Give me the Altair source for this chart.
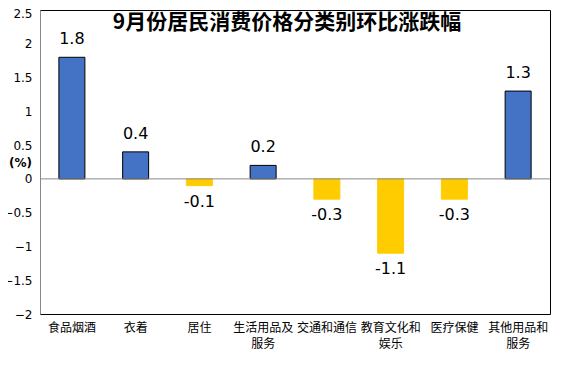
import altair as alt
import pandas as pd

categories = ["食品烟酒", "衣着", "居住", "生活用品及\n服务", "交通和通信", "教育文化和\n娱乐", "医疗保健", "其他用品和\n服务"]
values = [1.8, 0.4, -0.1, 0.2, -0.3, -1.1, -0.3, 1.3]
y_ticks = [-2, -1.5, -1, -0.5, 0, 0.5, 1, 1.5, 2, 2.5]
title_text = "9月份居民消费价格分类别环比涨跌幅"

df = pd.DataFrame({"cat": categories, "val": values})
df["label"] = df["val"].map(lambda v: f"{v:.1f}")
df["sign"] = df["val"].map(lambda v: "pos" if v >= 0 else "neg")

yscale = alt.Scale(domain=[-2, 2.5], nice=False, zero=False)
yaxis = alt.Axis(values=y_ticks, labelOverlap=False, format="~g",
                 grid=False, ticks=False, labelPadding=8, domainColor="#888",
                 labelOffset={"condition": {"test": "datum.value >= 2.5", "value": 3}, "value": 0},
                 labelFont="DejaVu Sans", labelFontSize=12, labelColor="#000",
                 titleAngle=0, titleX=-20, titleY=152, titleAlign="center",
                 titleFont="DejaVu Sans", titleFontSize=12, titleFontWeight="bold",
                 titleColor="#000", titleBaseline="middle")

x = alt.X("cat:N", sort=categories, title=None,
          axis=alt.Axis(labelAngle=0, labelExpr="split(datum.label, '\\n')",
                        labelFont="Noto Sans CJK SC", labelFontSize=12, labelColor="#000",
                        labelLineHeight=16, ticks=False, domain=False, labelPadding=8,
                        labelBaseline="top"),
          scale=alt.Scale(paddingInner=0, paddingOuter=0))
y = alt.Y("val:Q", title="(%)", scale=yscale, axis=yaxis)

base = alt.Chart(df)

bars = base.mark_bar(size=26, strokeWidth=1).encode(
    x=x, y=y,
    color=alt.Color("sign:N", scale=alt.Scale(domain=["pos", "neg"], range=["#4472C4", "#FFCC00"]), legend=None),
    stroke=alt.Stroke("sign:N", scale=alt.Scale(domain=["pos", "neg"], range=["#000000", "#FFCC00"]), legend=None),
)

zero = alt.Chart(pd.DataFrame({"val": [0]})).mark_rule(color="#888", strokeWidth=1).encode(y=y)

pos_text = base.transform_filter("datum.val >= 0").mark_text(
    baseline="bottom", dy=-10, font="DejaVu Sans", fontSize=16, color="#000"
).encode(x=x, y=y, text="label:N")
neg_text = base.transform_filter("datum.val < 0").mark_text(
    baseline="top", dy=8, font="DejaVu Sans", fontSize=16, color="#000"
).encode(x=x, y=y, text="label:N")

title = alt.Chart(pd.DataFrame({"t": [title_text]})).mark_text(
    font="Noto Sans CJK SC", fontSize=21, fontWeight="bold", color="#000", baseline="middle"
).encode(x=alt.value(247), y=alt.value(13), text="t:N")

chart = alt.layer(bars, zero, pos_text, neg_text, title).properties(
    width=510, height=304,
    autosize=alt.AutoSizeParams(type="none"),
    padding={"left": 32, "top": 2, "right": 16, "bottom": 52},
).configure_view(stroke="#000", strokeWidth=1)

chart.save("out.html", embed_options={"renderer": "svg", "actions": False})
